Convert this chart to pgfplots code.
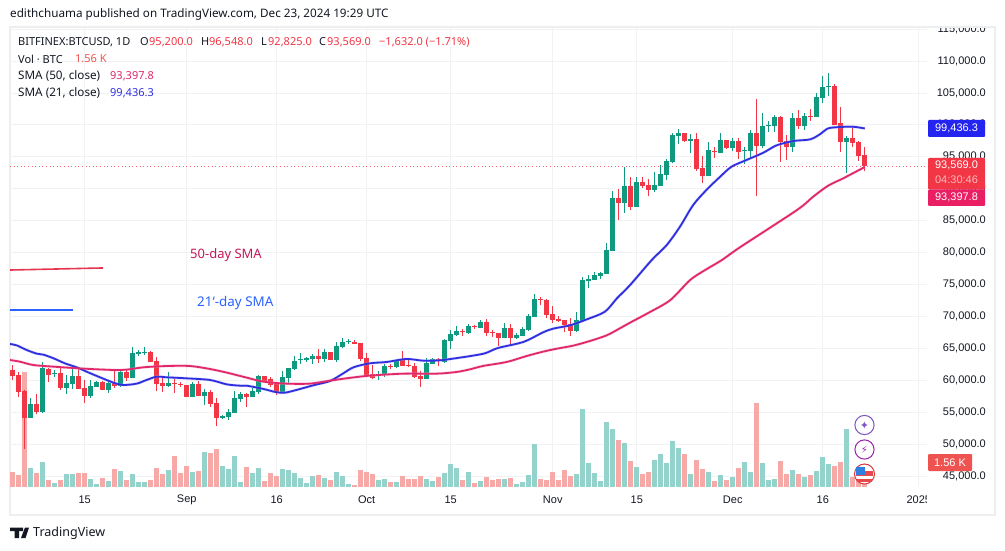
\documentclass[border=0pt]{standalone}
\usepackage{pgfplots}
\usepackage{pgfplotstable}
\usepackage{fontspec}
\pgfplotsset{compat=1.18}
\setmainfont{Noto Sans}
\newfontfamily\axisfont{Liberation Sans}
\newfontfamily\sym{DejaVu Sans}
\definecolor{tvred}{HTML}{F23645}
\definecolor{tvteal}{HTML}{0F9A80}
\definecolor{volred}{HTML}{F6A9A7}
\definecolor{volteal}{HTML}{93D3CB}
\definecolor{smapink}{HTML}{E0286B}
\definecolor{smablue}{HTML}{2F2FE0}
\definecolor{gridc}{HTML}{F1F2F4}
\definecolor{framec}{HTML}{EDEEF0}
\definecolor{legtext}{HTML}{131722}
\definecolor{drawred}{HTML}{E5354F}
\definecolor{drawblue}{HTML}{2962FF}
\definecolor{notepink}{HTML}{C2185B}
\definecolor{volcap}{HTML}{EF5350}
\definecolor{tagblue}{HTML}{2424F0}
\definecolor{tagpink}{HTML}{E91E63}
\definecolor{icona}{HTML}{7E57C2}
\definecolor{iconb}{HTML}{9C27B0}
\definecolor{iconc}{HTML}{D9363E}
\definecolor{icond}{HTML}{E8474C}
\definecolor{icone}{HTML}{2F7FE0}
\pgfplotstableread{
x hi bt bb lo
0 62380 61600 60710 60030
1 61230 60820 58200 57420
2 58470 58360 54130 49220
4 57840 56270 55020 54650
6 61960 61760 60820 59770
8 61960 61130 58780 58470
11 61860 60660 58670 58620
12 60030 58780 57530 56380
15 59880 59720 58520 58410
17 61490 59560 59140 58780
19 61600 61290 60400 59880
23 64570 64420 62900 62850
24 63690 62960 59460 58310
25 60290 59510 59140 58150
27 60140 59510 59410 58000
28 59770 59460 59410 58990
29 59250 59200 57370 57320
31 59880 59410 57580 57530
33 58470 58150 56330 55860
34 57160 56380 54130 52830
39 58050 57840 57370 55750
42 60710 60660 59930 59770
43 60450 60140 59300 58990
44 59510 59410 58200 57740
51 64890 63740 63320 62700
53 64420 64420 63160 63160
57 66250 65980 65720 65670
58 65880 65830 63320 63060
59 64260 63480 60820 60550
60 62380 60920 60350 60190
63 62540 62220 62070 61700
65 64570 63160 62280 62220
66 63270 62430 62330 62070
67 62700 62220 60550 60400
68 61440 60660 60240 58990
71 63480 63320 63010 62220
75 68020 67710 67500 66870
77 68650 68490 68340 68020
79 69590 69120 67400 66980
80 67870 67550 67400 66820
81 67450 67400 66670 65360
83 68810 68180 66610 65730
88 73090 72770 72670 71730
89 72670 72570 70220 69750
90 71630 70370 69380 68910
91 70060 69590 69220 69070
92 69430 69430 68650 67610
93 69690 68810 67710 66930
101 89950 88540 87750 85090
103 91830 90420 87130 86660
105 91830 91040 90420 90100
106 91510 90570 89790 88850
112 98720 98720 97460 97310
114 98720 97780 93080 92770
115 95110 93240 91980 90890
117 96520 95900 95690 94800
119 97620 97620 96370 96210
121 97930 97470 95750 94650
124 104050 98720 96690 88850
128 101390 101230 97310 94180
129 98410 97470 96530 94490
131 102330 101070 99820 99350
133 102480 101390 101230 100650
137 106400 106090 99980 99980
138 102800 100290 97310 95750
140 99660 97940 97160 96530
141 97470 97310 95120 94340
142 96548 95200 93569 92825
}\redt
\pgfplotstableread{
x hi bt bb lo
3 57160 56270 54130 54130
5 62800 61910 55020 54920
7 61600 61180 61080 60450
9 60820 59510 58780 57840
10 61860 60660 59410 58620
13 60030 59090 57530 57270
14 59880 59720 58990 58940
16 60030 59610 58520 58050
18 61760 61290 59140 58880
20 65150 64260 60400 60350
21 64680 64370 64160 63790
22 65150 64470 64260 64000
26 61230 59510 59140 58940
30 59670 59410 57370 57320
32 58570 58150 57530 56120
35 54550 54390 54130 53980
36 55440 55020 54240 53770
37 58310 57160 54920 54870
38 58200 57840 57060 56640
40 58730 58310 57370 57320
41 60820 60660 58200 57890
45 61440 60500 58150 58000
46 61910 61860 60350 59510
47 63790 63010 61760 61650
48 64210 63370 63220 62590
49 63640 63480 63160 62900
50 64100 63840 63370 62540
52 64840 64420 63320 62900
54 65930 65360 63160 62900
55 66560 65980 65200 65040
56 66400 66190 66040 65720
61 61490 60920 60820 60030
62 62490 62220 60820 60550
64 63160 63010 62070 61910
69 63480 62700 60240 60190
70 63480 63320 62540 62490
72 66510 66300 62850 62750
73 67860 67240 66140 64890
74 68490 67710 67030 66920
76 68800 68490 67340 67290
78 69430 69120 68180 68130
82 68910 68180 66670 66560
84 67340 67080 66560 66460
85 68280 68020 66930 66880
86 70370 70060 67920 67760
87 73450 72720 69900 69850
94 70690 69430 67710 67610
95 76170 75700 69220 69120
96 76480 75860 75540 74500
97 77000 76480 75700 75700
98 77000 76790 76380 75860
99 81440 80400 76640 76640
100 89630 88540 80230 80230
102 93440 90420 87750 86240
104 91830 91040 87130 87130
107 92610 90570 89790 89480
108 93710 92300 90420 90420
109 94650 94330 92140 91360
110 98720 98400 94180 94020
111 99340 98720 98250 97000
113 98560 97730 97520 95580
116 97260 96050 91980 91980
118 98720 97620 95580 95580
120 97930 97460 96370 95900
122 96480 96060 95900 93870
123 99190 98720 95900 94860
125 101860 99820 96690 96320
126 100600 99980 99870 98880
127 101540 101230 99820 98880
130 101860 101070 96530 95750
132 101860 101390 99820 99190
134 104990 104360 101230 101230
135 107650 105930 104200 103420
136 108120 106090 105930 104520
139 98250 97990 97310 92460
}\tealt
\pgfplotstableread{
x v
0 5
1 4
2 38.33
4 4.67
6 2.33
8 2.33
11 4.67
12 4.67
15 3
17 6
19 2.33
23 2.33
24 6.33
25 4.33
27 10.33
28 4.67
29 7
31 5.33
33 11.33
34 12.67
39 6.67
42 2
43 4.67
44 3.67
51 4
53 2.33
57 0.67
58 5.67
59 5
60 4.33
63 1.67
65 3.67
66 2.67
67 2.67
68 3.67
71 3.33
75 2.33
77 1.33
79 3.33
80 2.33
81 2.67
83 3
88 2.67
89 2.33
90 5
91 2.33
92 5.67
93 3.67
101 15.67
103 8.67
105 4.33
106 5
112 11
114 9
115 6
117 2
119 2.33
121 6.33
124 28
128 8.67
129 4.33
131 4.33
133 4
137 7
138 8.33
140 3.33
141 2.33
142 1.56
}\volredt
\pgfplotstableread{
x v
3 6.33
5 8.33
7 1.33
9 4.33
10 4.33
13 2.67
14 1
16 2
18 5.33
20 4.33
21 1.67
22 1.67
26 5.67
30 5
32 11.67
35 7
36 6
37 10.33
38 1.67
40 4.67
41 6.33
45 6
46 5.67
47 4.67
48 3
49 1.33
50 3.67
52 3
54 5
55 3.67
56 1
61 2.33
62 2.67
64 1.67
69 2.67
70 2
72 4.67
73 7.67
74 6.33
76 5
78 2
82 2.67
84 1
85 1.67
86 4
87 14.33
94 4.33
95 26
96 8
97 4.67
98 2
99 21.67
100 19.33
102 14.67
104 6.67
107 9
108 11
109 8
110 15.33
111 13
113 4.33
116 5
118 4
120 3.33
122 8.33
123 5
125 8
126 2.33
127 2.67
130 5.67
132 3.33
134 5.33
135 10
136 7.67
139 19.33
}\voltealt
\pgfplotstableread{
x y
-0.45 65670
0.66 65460
2.32 64730
4 64160
5.1 64000
6.8 63430
8.7 62640
10.66 62020
12.3 61340
14.55 60450
16.8 59610
18.4 59250
20.66 59460
22.3 60030
24 60550
25.66 60450
29 60290
32.9 60030
35.66 59350
37.88 59140
39 59140
41.8 58620
44 58100
45.4 58050
47.3 58470
50.1 59200
52.9 59880
55.1 61080
56.8 62020
59.5 62640
62.3 62850
65.6 63320
68.4 63060
71.2 63110
74.5 63530
76.2 63770
78.7 64210
80.9 65050
85.1 65990
88.4 67500
90.1 68080
92.9 68600
95.7 69540
98.7 70740
100.7 72830
102.9 74920
106.5 78830
109 81180
111.2 84050
113.4 87440
115.6 89790
117.9 91880
119.8 93450
122.3 94500
125.1 95640
127.3 96790
130.1 97470
132.9 97730
134.6 98570
135.9 99450
137.9 99660
140.1 99700
142 99436
}\smaTwentyOne
\pgfplotstableread{
x y
-0.45 63160
1.2 62900
3.4 62380
6.8 62120
11.8 61810
16.8 61600
19 61650
21.8 62020
25.7 62220
29.55 62220
32.9 61750
35.7 61180
37.9 60660
39 60400
41.8 59770
45.6 59460
49.5 59460
52.9 59930
55.6 60290
59.5 60710
65.1 61020
70.6 61020
74 61290
76.2 61700
78.4 62230
82.3 62850
85.7 63800
88.4 64470
90.7 64940
93.4 65410
96.2 66140
99 67030
101.2 68130
102.9 69020
106.2 70680
109.6 72560
112.9 75700
115.4 77260
118.2 78830
121.2 80820
130.7 86660
133.4 88750
135.9 90470
138.4 91620
142 93398
}\smaFifty
\pgfplotsset{
 chart/.style={
  at={(10pt,35pt)}, anchor=south west, scale only axis,
  width=985pt, height=488pt,
  xmin=-0.45, xmax=163.7,
 },
 priceaxis/.style={chart, ymin=38880, ymax=115330},
}
\newcommand\candles[2]{%
 \addplot[draw=none, mark=none, forget plot, error bars/.cd, y dir=plus, y explicit, error mark=none,
   error bar style={draw=#2, line width=1pt}]
   table[x=x, y=lo, y error expr=\thisrow{hi}-\thisrow{lo}] {#1};
 \addplot[draw=none, mark=none, forget plot, error bars/.cd, y dir=plus, y explicit, error mark=none,
   error bar style={draw=#2, line width=5pt}]
   table[x=x, y=bb, y error expr=\thisrow{bt}-\thisrow{bb}] {#1};
}
\begin{document}
\begin{tikzpicture}
\useasboundingbox (0,0) rectangle (1005pt,550pt);
% frame, ticks, grid
\begin{axis}[priceaxis,
  axis line style={draw=framec, line width=2pt},
  xtick={12,29,44,59,73,90,104,120,135,151},
  xticklabels={15,Sep,16,Oct,15,Nov,15,Dec,16,2025},
  ytick={45000,50000,...,115000},
  scaled y ticks=false,
  yticklabel pos=right,
  tick style={draw=none},
  major tick length=0pt,
  /pgf/number format/.cd, fixed, fixed zerofill, precision=1, 1000 sep={,}, assume math mode=true,
  /pgfplots/.cd,
  yticklabel style={anchor=east, xshift=-9pt, inner sep=0pt, font=\axisfont\fontsize{11}{12}\selectfont, text=legtext},
  xticklabel style={anchor=center, yshift=15pt, inner sep=0pt, font=\axisfont\fontsize{11}{12}\selectfont, text=legtext},
]
\addplot[gridc, line width=0.8pt, forget plot, unbounded coords=jump] coordinates {
 (12,43270)(12,115330)(12,nan)(29,43270)(29,115330)(29,nan)(44,43270)(44,115330)(44,nan)
 (59,43270)(59,115330)(59,nan)(73,43270)(73,115330)(73,nan)(90,43270)(90,115330)(90,nan)
 (104,43270)(104,115330)(104,nan)(120,43270)(120,115330)(120,nan)(135,43270)(135,115330)(135,nan)
 (151,43270)(151,115330)};
\addplot[gridc, line width=0.8pt, forget plot, unbounded coords=jump] coordinates {
 (-0.45,45000)(152.4,45000)(152.4,nan)(-0.45,50000)(152.4,50000)(152.4,nan)
 (-0.45,55000)(152.4,55000)(152.4,nan)(-0.45,60000)(152.4,60000)(152.4,nan)
 (-0.45,65000)(152.4,65000)(152.4,nan)(-0.45,70000)(152.4,70000)(152.4,nan)
 (-0.45,75000)(152.4,75000)(152.4,nan)(-0.45,80000)(152.4,80000)(152.4,nan)
 (-0.45,85000)(152.4,85000)(152.4,nan)(-0.45,90000)(152.4,90000)(152.4,nan)
 (-0.45,95000)(152.4,95000)(152.4,nan)(-0.45,100000)(152.4,100000)(152.4,nan)
 (-0.45,105000)(152.4,105000)(152.4,nan)(-0.45,110000)(152.4,110000)(152.4,nan)
 (-0.45,115000)(152.4,115000)};
\end{axis}
% volume
\begin{axis}[chart, hide axis, ymin=-9.333, ymax=153.333]
\addplot[ycomb, volred, line width=5pt, mark=none, forget plot] table[x=x,y=v] {\volredt};
\addplot[ycomb, volteal, line width=5pt, mark=none, forget plot] table[x=x,y=v] {\voltealt};
\end{axis}
% candles and averages
\begin{axis}[priceaxis, hide axis]
\addplot[tvred!75, line width=0.8pt, dash pattern=on 1pt off 2.6pt, forget plot] coordinates {(-0.45,93569)(152.55,93569)};
\candles{\redt}{tvred}
\candles{\tealt}{tvteal}
\addplot[smablue!45, line width=3pt, opacity=0.35, smooth, forget plot] table[x=x,y=y] {\smaTwentyOne};
\addplot[smapink!45, line width=3pt, opacity=0.35, smooth, forget plot] table[x=x,y=y] {\smaFifty};
\addplot[smablue, line width=1.8pt, smooth, forget plot] table[x=x,y=y] {\smaTwentyOne};
\addplot[smapink, line width=1.8pt, smooth, forget plot] table[x=x,y=y] {\smaFifty};
% user drawings
\addplot[drawred, line width=1.6pt, forget plot] coordinates {(-0.45,77260)(15.05,77580)};
\addplot[drawblue, line width=1.6pt, forget plot] coordinates {(-0.45,70990)(10.05,70990)};
\end{axis}
\begin{scope}[x=1pt,y=-1pt,shift={(0,550pt)}]
 % covers for clipped labels
 \fill[white] (920,0) rectangle (1005,25.7);
 \fill[white] (927,490) rectangle (950,512);
 \draw[framec,line width=2pt] (9,27) -- (996,27);
 % header
 \node[anchor=west,inner sep=0pt,text=legtext,font=\fontsize{11.7}{13}\selectfont] at (10,14.5) {edithchuama published on TradingView.com, Dec 23, 2024 19:29 UTC};
 \tikzset{leg/.style={anchor=west,inner sep=0pt,font=\fontsize{11}{12}\selectfont,text=legtext},
   val/.style={leg,text=tvred}}
 \node[leg] at (18,42) {BITFINEX:BTCUSD, 1D};
 \node[leg] at (140,42) {O}; \node[val] at (149,42) {95,200.0};
 \node[leg] at (201,42) {H}; \node[val] at (209,42) {96,548.0};
 \node[leg] at (261,42) {L}; \node[val] at (268,42) {92,825.0};
 \node[leg] at (319,42) {C}; \node[val] at (327,42) {93,569.0};
 \node[val] at (379,42) {−1,632.0 (−1.71\%)};
 \node[leg] at (18,59) {Vol · BTC}; \node[leg,text=volcap] at (75,59) {1.56 K};
 \node[leg,font=\fontsize{11.7}{12}\selectfont] at (18,76) {SMA (50, close)}; \node[leg,text=smapink] at (110,76) {93,397.8};
 \node[leg,font=\fontsize{11.7}{12}\selectfont] at (18,93) {SMA (21, close)}; \node[leg,text=smablue] at (110,93) {99,436.3};
 % annotations
 \node[anchor=west,inner sep=0pt,text=notepink,font=\fontsize{13}{14}\selectfont] at (190,255.5) {50-day SMA};
 \node[anchor=west,inner sep=0pt,text=drawblue,font=\fontsize{13.4}{14}\selectfont] at (197,303.5) {21`-day SMA};
 % price tags
 \tikzset{tag/.style={anchor=center,inner sep=0pt,text=white,font=\axisfont\fontsize{11}{12}\selectfont}}
 \fill[tagblue,rounded corners=1pt] (928,120) rectangle (985,137);
 \node[tag] at (956.5,128.5) {99,436.3};
 \fill[tvred,rounded corners=1pt] (928,158) rectangle (985,189.5);
 \node[tag] at (956.5,165.8) {93,569.0};
 \node[tag,text=white!65!tvred] at (956.5,180) {04:30:46};
 \fill[tagpink,rounded corners=1pt] (928,189.5) rectangle (985,206);
 \node[tag] at (956.5,197) {93,397.8};
 \fill[volcap,rounded corners=1pt] (928,454) rectangle (972,471);
 \node[tag] at (950,462.5) {1.56 K};
 % icons
 \draw[icona,fill=white,line width=1pt] (864.5,425) circle (9.6);
 \node[text=icona,inner sep=0pt,font=\sym\fontsize{11}{12}\selectfont] at (864.5,425) {✦};
 \draw[iconb,fill=white,line width=1pt] (864.5,449.5) circle (9.6);
 \node[text=iconb,inner sep=0pt,font=\sym\fontsize{10}{12}\selectfont] at (864.5,449.5) {⚡};
 \draw[iconc,fill=white,line width=1pt] (864.5,474) circle (10);
 \fill[icond] (856,471) rectangle (873,476);
 \fill[icond] (857,479) rectangle (872,482);
 \fill[icone] (855.5,467) rectangle (865,475);
 % logo
 \fill[legtext] (10,527.5) rectangle (23,531) (14.5,531) rectangle (19,538);
 \fill[legtext] (21,538) -- (25,527.5) -- (29,527.5) -- (25.5,538) -- cycle;
 \node[anchor=west,inner sep=0pt,text=legtext,font=\fontsize{12.5}{14}\selectfont] at (33,533) {TradingView};
\end{scope}
\end{tikzpicture}
\end{document}
